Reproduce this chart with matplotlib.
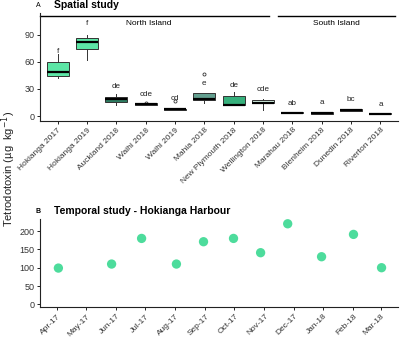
import numpy as np
import pandas as pd
import matplotlib
matplotlib.use("Agg")
import matplotlib.pyplot as plt
import matplotlib.dates as mdates

plt.rcParams['font.family'] = ['Liberation Sans', 'DejaVu Sans']

# Panel A - spatial study (box statistics, µg/kg)
sites = ["Hokianga 2017", "Hokianga 2019", "Auckland 2018", "Waihi 2018", "Waihi 2019",
         "Mahia 2018", "New Plymouth 2018", "Wellington 2018", "Marahau 2018",
         "Blenheim 2018", "Dunedin 2018", "Riverton 2018"]
q1 = [44.5, 74, 15.2, 12.6, 7.0, 17.8, 12.2, 14.0, 3.4, 2.3, 5.6, 2.3]
med = [48.2, 81.5, 19.0, 13.3, 7.6, 18.5, 12.6, 14.6, 3.7, 3.3, 6.8, 2.6]
q3 = [59.7, 86.3, 21.5, 14.2, 8.3, 25.0, 22.6, 17.8, 4.0, 4.6, 7.8, 2.9]
whislo = [41.5, 62, 12, 12.3, 6.8, 14, 12.2, 6.7, 3.3, 2.0, 5.4, 2.2]
whishi = [69, 90, 24, 14.5, 8.5, 25.5, 27, 19, 4.1, 4.8, 8.0, 3.0]
outliers = [[], [], [], [14.8], [17], [46.7], [], [], [], [], [], []]
letters = ["f", "f", "de", "cde", "cd", "e", "de", "cde", "ab", "a", "bc", "a"]
letter_y = [71, 102, 33, 24, 19.5, 35.5, 33.7, 29, 14, 15, 18.5, 13]
fills = ["#5de6a6", "#5de6a6", "#2f7d62", "#2b5545", "#17251d", "#639f8f",
         "#36b07c", "#d9f7e8", "#111111", "#4a0a18", "#5c0a1e", "#111111"]

# Panel B - temporal study, Hokianga Harbour
sample_dates = ["2017-04-02", "2017-05-27", "2017-06-27", "2017-08-02", "2017-08-30",
                "2017-09-30", "2017-10-28", "2017-11-25", "2017-12-30", "2018-02-01",
                "2018-03-02"]
ttx = [99, 110, 180, 110, 171, 180, 141, 220, 130, 191, 100]

fig = plt.figure(figsize=(4.0, 3.38), dpi=100)
axA = fig.add_axes([0.1, 0.642, 0.895, 0.320])
axB = fig.add_axes([0.1, 0.091, 0.895, 0.261])

tick_col = "#333333"

# ---- panel A
pos = np.arange(1, len(sites) + 1)
stats = []
for i in range(len(sites)):
    stats.append(dict(q1=q1[i], med=med[i], q3=q3[i], whislo=whislo[i],
                      whishi=whishi[i], fliers=outliers[i]))
bp = axA.bxp(stats, positions=pos, widths=0.75, patch_artist=True,
             showfliers=True,
             medianprops=dict(color="black", linewidth=1.6),
             whiskerprops=dict(color="#333333", linewidth=0.7),
             capprops=dict(linewidth=0),
             boxprops=dict(linewidth=0.7, edgecolor="#333333"),
             flierprops=dict(marker="o", markersize=2.2, markerfacecolor="none",
                             markeredgecolor="#333333", markeredgewidth=0.6))
for patch, c in zip(bp["boxes"], fills):
    patch.set_facecolor(c)

for x, t, y in zip(pos, letters, letter_y):
    axA.text(x, y, t, ha="center", va="center", fontsize=5.8, color="#222222")

axA.plot([0.4, 8.2], [110, 110], color="black", lw=1.0, clip_on=False)
axA.plot([8.5, 12.5], [110, 110], color="black", lw=1.0, clip_on=False)
axA.text(4.1, 102, "North Island", ha="center", va="center", fontsize=6)
axA.text(10.5, 102, "South Island", ha="center", va="center", fontsize=6)

axA.set_xlim(0.4, 12.6)
axA.set_ylim(-5.5, 114)
axA.set_yticks([0, 30, 60, 90])
axA.set_xticks(pos)
axA.set_xticklabels(sites, rotation=45, ha="right", rotation_mode="anchor")
axA.text(-0.012, 1.07, "A", transform=axA.transAxes, fontsize=5, ha="left", va="center")
axA.text(0.04, 1.07, "Spatial study", transform=axA.transAxes, fontsize=7.5,
         fontweight="bold", ha="left", va="center")

# ---- panel B
dts = pd.to_datetime(sample_dates)
axB.scatter(dts, ttx, s=45, color="#4ddc9c", edgecolor="none", zorder=3)
axB.set_ylim(-8, 233)
axB.set_yticks([0, 50, 100, 150, 200])
axB.set_xlim(pd.Timestamp("2017-03-14"), pd.Timestamp("2018-03-19"))
axB.xaxis.set_major_locator(mdates.MonthLocator())
axB.xaxis.set_major_formatter(mdates.DateFormatter("%b-%y"))
plt.setp(axB.get_xticklabels(), rotation=45, ha="right", rotation_mode="anchor")
axB.text(-0.012, 1.09, "B", transform=axB.transAxes, fontsize=5, fontweight="bold",
         ha="left", va="center")
axB.text(0.04, 1.09, "Temporal study - Hokianga Harbour", transform=axB.transAxes,
         fontsize=7.5, fontweight="bold", ha="left", va="center")

for ax in (axA, axB):
    for s in ("top", "right"):
        ax.spines[s].set_visible(False)
    for s in ("left", "bottom"):
        ax.spines[s].set_linewidth(0.8)
        ax.spines[s].set_color("#222222")
    ax.tick_params(labelsize=6.5, length=2.5, width=0.7, colors="#222222",
                   labelcolor=tick_col, pad=1.5)
    ax.tick_params(axis="x", labelsize=6)

fig.text(0.022, 0.50, "Tetrodotoxin (µg  kg$^{-1}$)", rotation=90, ha="center",
         va="center", fontsize=8, color="#222222")

fig.savefig("out.png", dpi=100)
